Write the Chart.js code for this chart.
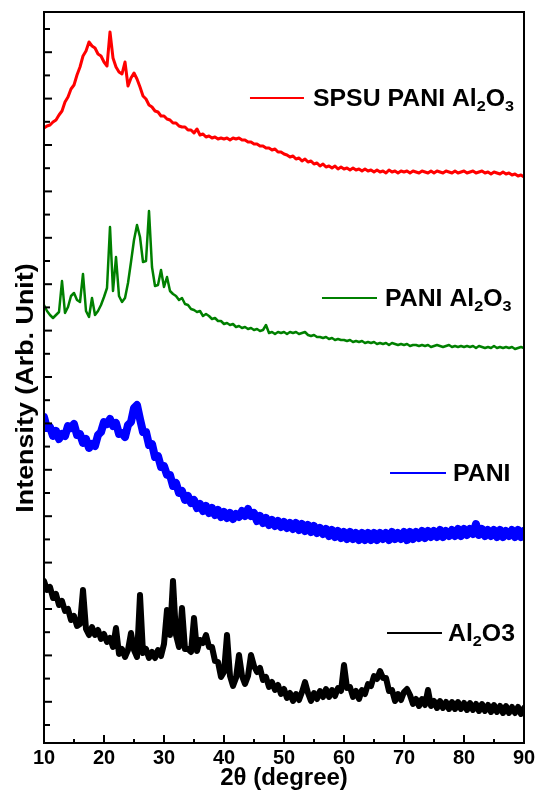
<!DOCTYPE html>
<html>
<head>
<meta charset="utf-8">
<script src="https://cdn.jsdelivr.net/npm/chart.js@4.4.1/dist/chart.umd.min.js"></script>
<style>
html,body{margin:0;padding:0;background:#fff;}
#c{display:block;width:535px;height:798px;}
</style>
</head>
<body>
<canvas id="c" width="535" height="798"></canvas>
<script>
// 2θ grid (degrees)
const twoTheta = [
  10,10.5,11,11.5,12,12.5,13,13.5,14,14.5,
  15,15.5,16,16.5,17,17.5,18,18.5,19,19.5,
  20,20.5,21,21.5,22,22.5,23,23.5,24,24.5,
  25,25.5,26,26.5,27,27.5,28,28.5,29,29.5,
  30,30.5,31,31.5,32,32.5,33,33.5,34,34.5,
  35,35.5,36,36.5,37,37.5,38,38.5,39,39.5,
  40,40.5,41,41.5,42,42.5,43,43.5,44,44.5,
  45,45.5,46,46.5,47,47.5,48,48.5,49,49.5,
  50,50.5,51,51.5,52,52.5,53,53.5,54,54.5,
  55,55.5,56,56.5,57,57.5,58,58.5,59,59.5,
  60,60.5,61,61.5,62,62.5,63,63.5,64,64.5,
  65,65.5,66,66.5,67,67.5,68,68.5,69,69.5,
  70,70.5,71,71.5,72,72.5,73,73.5,74,74.5,
  75,75.5,76,76.5,77,77.5,78,78.5,79,79.5,
  80,80.5,81,81.5,82,82.5,83,83.5,84,84.5,
  85,85.5,86,86.5,87,87.5,88,88.5,89,89.5,
  90
];

// Intensities (arbitrary units, curves stacked with offsets as in the figure)
const spsuPaniAl2O3 = [
  615,617,618,621,623,628,632,641,646,654,
  658,668,676,687,692,701,697,695,689,687,
  681,677,711,685,676,671,669,681,657,665,
  670,664,656,647,644,638,636,632,631,627,
  627,624,623,620,620,617,616,616,613,613,
  610,614,608,609,606,607,605,606,604,605,
  604,605,603,605,604,605,603,603,601,601,
  599,599,597,597,595,595,593,594,591,591,
  589,588,586,587,584,585,582,584,581,582,
  579,580,577,579,576,577,575,577,574,576,
  574,575,573,575,573,574,572,574,572,573,
  571,573,571,572,570,573,571,572,570,572,
  571,572,570,572,571,570,572,571,570,572,
  570,572,571,570,572,571,570,572,570,571,
  572,570,571,572,570,571,572,570,571,569,
  571,570,569,571,569,570,568,569,567,568,
  566
];

const paniAl2O3 = [
  438,432,428,425,428,431,462,430,436,447,
  450,443,441,469,432,426,445,428,432,438,
  446,455,516,452,486,447,441,445,460,481,
  503,518,506,481,482,532,476,457,458,473,
  456,466,452,449,447,443,445,439,438,434,
  433,431,432,427,429,427,424,425,422,422,
  419,420,418,419,416,417,415,416,414,415,
  413,414,412,413,418,410,411,409,411,410,
  411,409,411,410,411,409,410,411,408,407,
  408,406,406,405,406,404,405,403,404,403,
  403,402,403,401,402,401,402,400,401,400,
  401,399,400,399,400,398,400,399,398,399,
  398,399,397,398,398,397,398,397,398,396,
  397,398,397,396,397,398,396,397,396,397,
  396,397,396,397,395,397,396,395,396,395,
  397,395,396,395,396,395,396,394,395,396,
  395
];

const pani = [
  326,315,316,307,312,304,309,307,317,315,
  319,308,309,300,304,295,299,297,308,311,
  321,319,324,317,320,309,310,306,318,321,
  335,338,324,311,311,298,299,286,287,276,
  277,268,268,257,260,250,252,243,247,240,
  243,235,239,232,237,230,235,228,233,226,
  231,225,230,224,229,226,232,227,234,227,
  230,222,227,220,225,218,223,217,222,216,
  221,215,220,214,220,213,219,212,218,211,
  217,210,215,209,214,207,213,206,212,205,
  211,204,211,204,210,203,210,203,210,203,
  210,203,210,204,210,203,211,204,210,204,
  211,203,211,204,211,205,212,205,212,206,
  212,206,213,206,212,207,213,207,214,207,
  214,208,214,209,219,208,214,207,213,207,
  213,206,213,206,212,207,213,206,213,206,
  212
];

const al2o3 = [
  162,153,156,145,149,138,142,132,134,123,
  127,117,119,153,114,108,116,108,113,104,
  109,101,105,96,115,89,94,86,93,110,
  93,86,148,90,94,85,91,85,93,87,
  99,133,108,162,108,96,135,94,94,91,
  125,92,103,100,108,96,96,82,81,66,
  71,108,67,57,65,88,67,59,67,88,
  77,71,75,63,66,56,61,53,58,49,
  54,45,50,42,49,43,51,61,50,42,
  50,44,52,46,54,46,53,47,55,52,
  78,55,56,46,52,44,53,49,59,57,
  67,64,72,65,65,52,53,42,49,43,
  51,54,48,39,44,37,44,38,53,37,
  42,35,42,35,41,34,41,34,41,34,
  40,33,40,33,39,32,39,32,38,31,
  38,31,37,30,37,30,36,30,36,29,
  35
];

const xTickStep = 10;
const yTickStart = 18, yTickStep = 23.2;
const yTitle = 'Intensity (Arb. Unit)';

const FONT = '"Liberation Sans", Arial, Helvetica, sans-serif';

const legendItems = [
  {parts:[{t:'SPSU PANI Al'},{t:'2',sub:true},{t:'O'},{t:'3',sub:true}], color:'#ff0000', lineFrom:44.33, lineTo:53.33, textAt:54.83, at:645},
  {parts:[{t:'PANI Al'},{t:'2',sub:true},{t:'O'},{t:'3',sub:true}], color:'#008000', lineFrom:56.33, lineTo:65.5, textAt:66.83, at:445},
  {parts:[{t:'PANI'}], color:'#0000ff', lineFrom:67.67, lineTo:77.0, textAt:78.17, at:270},
  {parts:[{t:'Al'},{t:'2',sub:true},{t:'O3'}], color:'#000000', lineFrom:67.17, lineTo:76.33, textAt:77.33, at:110}
];

function toXY(vals){ return twoTheta.map((t,i)=>({x:t, y:vals[i]})); }

const framePlugin = {
  id:'framePlugin',
  afterDraw(chart){
    const {ctx, chartArea:ca, scales:{x, y}} = chart;
    const seg = (x0,y0,x1,y1)=>{ctx.beginPath();ctx.moveTo(x0,y0);ctx.lineTo(x1,y1);ctx.stroke();};
    ctx.save();
    // legend annotations
    legendItems.forEach(it=>{
      const x0 = x.getPixelForValue(it.lineFrom), x1 = x.getPixelForValue(it.lineTo);
      const yy = y.getPixelForValue(it.at);
      ctx.strokeStyle = it.color; ctx.lineWidth = 2;
      seg(x0, yy, x1, yy);
      ctx.save();
      ctx.translate(x.getPixelForValue(it.textAt), yy + 8);
      ctx.scale(1.08, 1);
      let tx = 0;
      ctx.fillStyle = '#000'; ctx.textBaseline = 'alphabetic'; ctx.textAlign = 'left';
      it.parts.forEach(p=>{
        ctx.font = p.sub ? 'bold 15px ' + FONT : 'bold 23px ' + FONT;
        ctx.fillText(p.t, tx, p.sub ? 5 : 0);
        tx += ctx.measureText(p.t).width;
      });
      ctx.restore();
    });
    // y axis title
    ctx.save();
    ctx.translate(33, 388);
    ctx.rotate(-Math.PI/2);
    ctx.scale(1.12, 1);
    ctx.font = 'bold 24px ' + FONT;
    ctx.fillStyle = '#000'; ctx.textAlign = 'center'; ctx.textBaseline = 'alphabetic';
    ctx.fillText(yTitle, 0, 0);
    ctx.restore();
    // frame
    ctx.strokeStyle = '#000'; ctx.lineWidth = 2;
    ctx.strokeRect(ca.left, ca.top, ca.right - ca.left, ca.bottom - ca.top);
    // x ticks (inward): major + minor
    x.ticks.forEach(t=>{
      const px = x.getPixelForValue(t.value);
      seg(px, ca.bottom, px, ca.bottom - 8);
      const m = t.value + xTickStep/2;
      if (m < x.max){ const pm = x.getPixelForValue(m); seg(pm, ca.bottom, pm, ca.bottom - 4); }
    });
    // y ticks (inward)
    let i = 0;
    for (let v = yTickStart; v <= y.max; v += yTickStep, i++){
      const py = y.getPixelForValue(v);
      seg(ca.left, py, ca.left + (i % 2 ? 8 : 6), py);
    }
    ctx.restore();
  }
};

new Chart(document.getElementById('c'), {
  type:'line',
  data:{
    datasets:[
      {label:'SPSU PANI Al2O3', data:toXY(spsuPaniAl2O3), borderColor:'#ff0000', borderWidth:3},
      {label:'PANI Al2O3', data:toXY(paniAl2O3), borderColor:'#008000', borderWidth:2.5},
      {label:'PANI', data:toXY(pani), borderColor:'#0000ff', borderWidth:8},
      {label:'Al2O3', data:toXY(al2o3), borderColor:'#000000', borderWidth:6}
    ]
  },
  options:{
    responsive:false,
    animation:false,
    devicePixelRatio:1,
    layout:{padding:{top:12, right:11, left:0, bottom:0}},
    elements:{point:{radius:0}, line:{tension:0, borderJoinStyle:'round', borderCapStyle:'round'}},
    plugins:{legend:{display:false}, tooltip:{enabled:false}},
    scales:{
      x:{
        type:'linear', min:10, max:90,
        afterFit(s){ s.height = 55; s.paddingLeft = 0; s.paddingRight = 0; },
        grid:{display:false, drawTicks:false},
        border:{display:false},
        ticks:{stepSize:xTickStep, color:'#000', padding:3, maxRotation:0, autoSkip:false,
               font:{family:FONT, weight:'bold', size:20}},
        title:{display:true, text:'2θ (degree)', color:'#000',
               font:{family:FONT, weight:'bold', size:24}, padding:{top:0, bottom:5}}
      },
      y:{
        type:'linear', min:0, max:731,
        afterFit(s){ s.width = 44; s.paddingTop = 0; s.paddingBottom = 0; },
        grid:{display:false, drawTicks:false},
        border:{display:false},
        ticks:{display:false},
        title:{display:false}
      }
    }
  },
  plugins:[framePlugin]
});
</script>
</body>
</html>
